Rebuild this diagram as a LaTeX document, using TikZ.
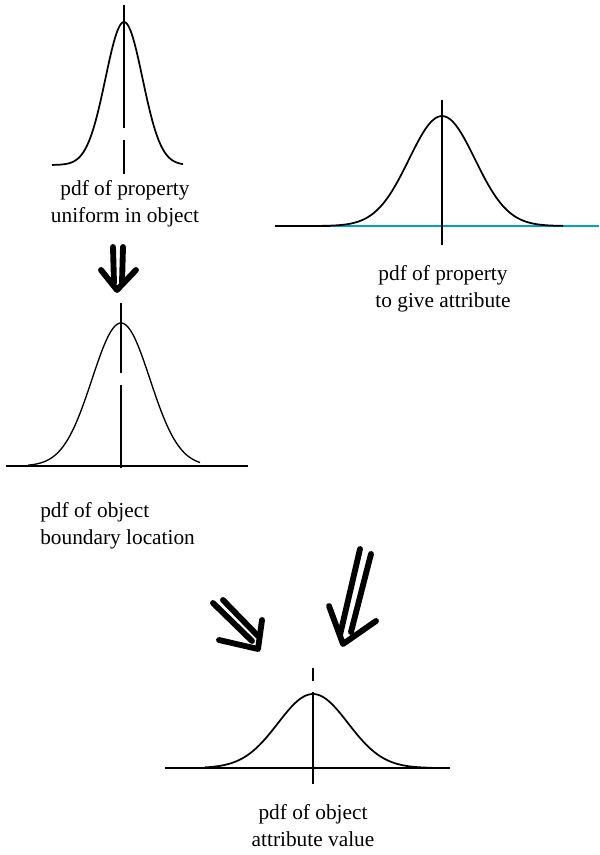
\documentclass[tikz,border=0pt]{standalone}
\usepackage{fontspec}
\setmainfont{Liberation Serif}
\begin{document}
\begin{tikzpicture}[x=0.75pt,y=-0.75pt,
  curve/.style={line width=1.3pt,black,smooth},
  axis/.style={line width=1pt,black},
  label/.style={font=\fontsize{16}{20.25}\selectfont,inner sep=0pt,align=center},
  hand/.style={line width=4.4pt,line cap=round,line join=round,black}]
\useasboundingbox (0,0) rectangle (599,855);
% plot 1
\draw[curve] plot[domain=52:183,samples=80] (\x,{165-143*exp(-((\x-124)^2)/(2*18.5^2))});
\draw[axis] (124,5) -- (124,128);
\draw[axis] (124,140) -- (124,174);
\node[label] (t1) at (125,204) {pdf of property\\uniform in object};
% arrow 1
\draw[hand] (113,247) -- (114,283);
\draw[hand] (123,247) -- (122,283);
\draw[hand] (101,270) -- (117,290) -- (136,270);
% plot 3
\draw[axis] (275,226) -- (330,226);
\draw[line width=1.2pt,color={rgb,255:red,0;green,160;blue,200}] (330,226) -- (599,226);
\draw[curve] plot[domain=322:563,samples=80] (\x,{226-110*exp(-((\x-442)^2)/(2*33^2))});
\draw[axis] (442,100) -- (442,245);
\node[label] (t3) at (443,289) {pdf of property\\to give attribute};
% plot 2
\draw[axis] (6,466) -- (248,466);
\draw[curve,line width=1pt] plot[domain=28:200,samples=80] (\x,{466-143*exp(-((\x-121)^2)/(2*29^2))});
\draw[axis] (121,303) -- (121,373);
\draw[axis] (121,385) -- (121,468);
\node[label,align=left,anchor=west] (t2) at (40,526) {pdf of object\\boundary location};
% arrows 2 and 3
\draw[hand] (213,603) -- (252,641);
\draw[hand] (223,600) -- (258,636);
\draw[hand] (219,640) -- (258,649) -- (262,620);
\draw[hand] (360,549) -- (340,635);
\draw[hand] (371,554) -- (351,632);
\draw[hand] (329,606) -- (343,644) -- (376,621);
% plot 4
\draw[axis] (165,768) -- (450,768);
\draw[curve] plot[domain=205:432,samples=80] (\x,{768-74*exp(-((\x-313)^2)/(2*35^2))});
\draw[axis] (313,668) -- (313,681);
\draw[axis] (313,692) -- (313,784);
\node[label] (t4) at (313,826) {pdf of object\\attribute value};
\end{tikzpicture}
\end{document}
